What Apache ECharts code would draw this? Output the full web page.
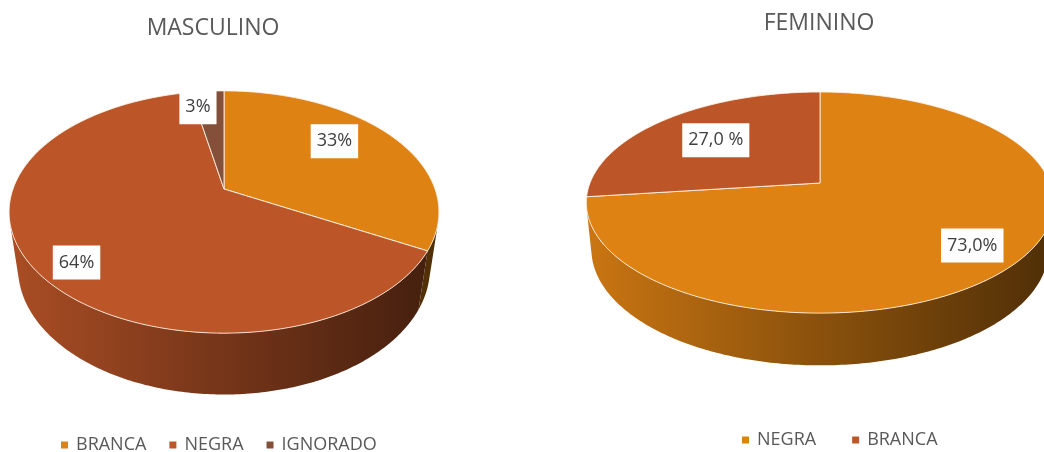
<!DOCTYPE html>
<html>
<head>
<meta charset="utf-8">
<script src="https://cdn.jsdelivr.net/npm/echarts@6/dist/echarts.min.js"></script>
<style>
  html, body { margin: 0; padding: 0; background: #ffffff; }
  .chart { position: absolute; left: 0; top: 0; width: 1044px; height: 452px; }
</style>
</head>
<body>
<div id="masc" class="chart"></div>
<div id="fem" class="chart"></div>
<script>
// Distribution by race/colour, split by sex
const MASC_CATEGORIES = ['BRANCA', 'NEGRA', 'IGNORADO'];
const MASC_VALUES = [33, 64, 3];
const MASC_LABELS = ['33%', '64%', '3%'];

const FEM_CATEGORIES = ['NEGRA', 'BRANCA'];
const FEM_VALUES = [73.0, 27.0];
const FEM_LABELS = ['73,0%', '27,0 %'];

const SLICE_COLORS = ['#DF8214', '#BC5628', '#84503A'];
const FONT = '"Open Sans", "Noto Sans", sans-serif';

// Perspective projection of a tilted disc: phi clockwise from the far side (degrees),
// r radius, y height (0 = top face, negative = downwards).
function makeProjector(g) {
  const a = g.tilt * Math.PI / 180, sa = Math.sin(a), ca = Math.cos(a);
  return function (phi, r, y) {
    const p = phi * Math.PI / 180;
    const x = r * Math.sin(p), z = -r * Math.cos(p);
    const yd = z * sa - y * ca, d = z * ca + y * sa;
    const s = g.F / (g.F - d);
    return [g.cx + s * x, g.cy + s * yd];
  };
}

function shade(hex, k) {
  const n = parseInt(hex.slice(1), 16);
  const r = Math.round(((n >> 16) & 255) * k), gg = Math.round(((n >> 8) & 255) * k), b = Math.round((n & 255) * k);
  return 'rgb(' + r + ',' + gg + ',' + b + ')';
}

function arc(project, a0, a1, r, y) {
  const pts = [];
  const steps = Math.max(2, Math.ceil(Math.abs(a1 - a0) / 0.75));
  for (let i = 0; i <= steps; i++) pts.push(project(a0 + (a1 - a0) * i / steps, r, y));
  return pts;
}

// labelPlace: per slice { r: radius fraction, dphi: angular nudge from the slice middle }
function pieSeries(cats, vals, labels, geo, labelPlace) {
  const total = vals.reduce((s, v) => s + v, 0);
  const project = makeProjector(geo);
  const ca = Math.cos(geo.tilt * Math.PI / 180);
  // front-facing part of the outer wall
  const vMin = Math.acos(-geo.R / (geo.F * ca)) * 180 / Math.PI;
  const vMax = 360 - vMin;
  let acc = 0;
  return cats.map((name, i) => {
    const before = acc;
    acc += vals[i];
    const color = SLICE_COLORS[i];
    return {
      type: 'custom',
      name: name,
      coordinateSystem: 'none',
      silent: true,
      animation: false,
      itemStyle: { color: color },
      data: [vals[i]],
      renderItem: function (params, api) {
        const v = api.value(0);
        const start = before / total * 360;
        const end = start + v / total * 360;
        const children = [];
        const w0 = Math.max(start, vMin), w1 = Math.min(end, vMax);
        if (w1 > w0) {
          const top = arc(project, w0, w1, geo.R, 0);
          const bottom = arc(project, w1, w0, geo.R, -geo.h);
          children.push({
            type: 'polygon',
            z2: 1,
            shape: { points: top.concat(bottom) },
            style: {
              fill: new echarts.graphic.LinearGradient(geo.cx - geo.R, 0, geo.cx + geo.R, 0, [
                { offset: 0, color: shade(color, 0.9) },
                { offset: 0.5, color: shade(color, 0.62) },
                { offset: 1, color: shade(color, 0.36) }
              ], true)
            }
          });
        }
        const face = [project(0, 0, 0)].concat(arc(project, start, end, geo.R, 0));
        children.push({
          type: 'polygon',
          z2: 10,
          shape: { points: face },
          style: { fill: color, stroke: 'rgba(255,244,232,0.85)', lineWidth: 1 }
        });
        const place = labelPlace[i];
        const lp = project((start + end) / 2 + place.dphi, geo.R * place.r, 0);
        children.push({
          type: 'text',
          z2: 20,
          style: {
            x: lp[0], y: lp[1],
            text: labels[i],
            align: 'center', verticalAlign: 'middle',
            fill: '#404040',
            font: '18px ' + FONT,
            backgroundColor: '#ffffff',
            padding: [8, 6]
          }
        });
        return { type: 'group', children: children };
      }
    };
  });
}

function buildOption(title, titlePos, cats, vals, labels, geo, labelPlace, legendPos, legendGap) {
  return {
    animation: false,
    title: {
      text: title,
      left: titlePos[0], top: titlePos[1],
      textAlign: 'center',
      padding: 0,
      textStyle: { fontFamily: FONT, fontSize: 23, fontWeight: 'normal', color: '#595959' }
    },
    legend: {
      data: cats,
      left: legendPos[0], top: legendPos[1],
      icon: 'rect', itemWidth: 7, itemHeight: 7, itemGap: legendGap,
      padding: 0,
      textStyle: { fontFamily: FONT, fontSize: 18, color: '#595959', padding: [0, 0, 0, 3] }
    },
    series: pieSeries(cats, vals, labels, geo, labelPlace)
  };
}

const mascGeo = { cx: 224, cy: 189, R: 211, tilt: 33.6, F: 925, h: 70 };
const femGeo = { cx: 820, cy: 183, R: 230, tilt: 27.75, F: 1150, h: 53 };

echarts.init(document.getElementById('masc')).setOption(
  buildOption('MASCULINO', [213, 17], MASC_CATEGORIES, MASC_VALUES, MASC_LABELS, mascGeo,
    [{ r: 0.72, dphi: -7.4 }, { r: 0.84, dphi: -6 }, { r: 0.82, dphi: -4.6 }], [61, 436], 23)
);
echarts.init(document.getElementById('fem')).setOption(
  buildOption('FEMININO', [819, 12], FEM_CATEGORIES, FEM_VALUES, FEM_LABELS, femGeo,
    [{ r: 0.8, dphi: 0 }, { r: 0.65, dphi: 0 }], [742, 431], 36)
);
</script>
</body>
</html>
